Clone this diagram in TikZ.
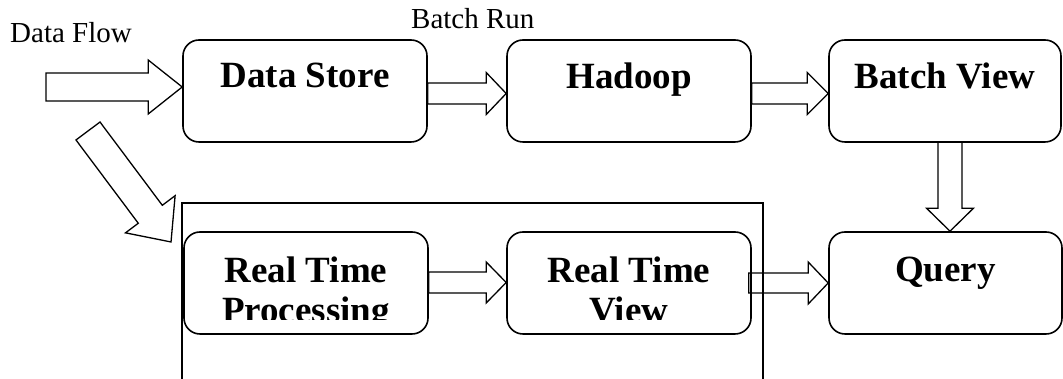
\documentclass[tikz,border=0pt]{standalone}
\usepackage{fontspec}
\setmainfont{Liberation Serif}
\usetikzlibrary{calc}
\tikzset{
  box/.style={draw, line width=1.6pt, rounded corners=16pt, minimum height=102pt, inner sep=0pt},
  blk/.style={draw, line width=1.3pt, line join=miter},
  big/.style={font=\fontsize{37}{40}\selectfont\bfseries, inner sep=0pt, align=center, anchor=base},
  small/.style={font=\fontsize{29}{32}\selectfont, inner sep=0pt, anchor=base west},
  frame/.style={draw, line width=1.3pt}
}
% horizontal block arrow: #1 tail point, #2 tip point, #3 shaft half, #4 head half, #5 head length
\newcommand\hblk[5]{%
  \draw[blk] let \p1=(#1), \p2=(#2) in
    (\x1,\y2+#3) -- (\x2-#5,\y2+#3) -- (\x2-#5,\y2+#4) -- (\x2,\y2) --
    (\x2-#5,\y2-#4) -- (\x2-#5,\y2-#3) -- (\x1,\y2-#3) -- cycle;}
\begin{document}
\begin{tikzpicture}[x=1pt,y=1pt]
\useasboundingbox (0,0) rectangle (1063,379);

% boxes
\node[box, minimum width=244pt] (ds) at (305,288) {};
\node[box, minimum width=244pt] (hd) at (629,288) {};
\node[box, minimum width=232pt] (bv) at (945,288) {};
\node[box, minimum width=244pt] (rtp) at (306,96) {};
\node[box, minimum width=244pt] (rtv) at (629,96) {};
\node[box, minimum width=233pt] (q) at (945.5,96) {};

% labels
\node[big] (dsl) at ($(ds.center)+(0,3)$) {Data Store};
\node[big] (hdl) at ($(hd.center)+(0,2)$) {Hadoop};
\node[big] (bvl) at ($(bv.center)+(0,2)$) {Batch View};
\node[big] (ql) at ($(q.center)+(0,1)$) {Query};
\begin{scope}
  \clip (0,59) rectangle (1063,379);
  \node[big] (rtpl) at ($(rtp.center)+(0,-40)$) {Real Time\\Processing};
  \node[big] (rtvl) at ($(rtv.center)+(0,-40)$) {Real Time\\View};
\end{scope}
\node[small] (dfl) at (10,336) {Data Flow};
\node[small] (brl) at (411,350) {Batch Run};

% frame round real-time layer
\draw[frame] (182,-5) -- (182,176) -- (763,176) -- (763,-5);

% incoming data flow arrow
\coordinate (dfin) at (46,292);
\draw[blk] let \p1=(dfin), \p2=(ds.west) in
  (\x1,\y1+14) -- (\x2-34,\y1+14) -- (\x2-34,\y1+27) -- (\x2,\y1) --
  (\x2-34,\y1-27) -- (\x2-34,\y1-14) -- (\x1,\y1-14) -- cycle;

% diagonal arrow towards the real-time layer
\coordinate (diagtail) at (88,248);
\begin{scope}[shift={(diagtail)}, rotate=-53.2]
  \draw[blk] (0,15) -- (104,15) -- (104,31) -- (138.6,0) -- (104,-31) -- (104,-15) -- (0,-15) -- cycle;
\end{scope}

% horizontal arrows
\hblk{ds.east}{$(hd.west)+(0,-2.5)$}{10.5pt}{21pt}{20pt}
\hblk{hd.east}{$(bv.west)+(0,-2.5)$}{10.5pt}{21pt}{21pt}
\hblk{rtp.east}{$(rtv.west)+(0,0.5)$}{10.5pt}{20.5pt}{20pt}
\hblk{$(rtv.east)+(-3,0)$}{q.west}{10pt}{21pt}{20pt}

% vertical arrow batch view -> query
\draw[blk] let \p1=(bv.south), \p2=(q.north) in
  (950-12,\y1) -- (950-12,\y2+23) -- (950-23.5,\y2+23) -- (950,\y2) --
  (950+23.5,\y2+23) -- (950+12,\y2+23) -- (950+12,\y1);
\end{tikzpicture}
\end{document}
